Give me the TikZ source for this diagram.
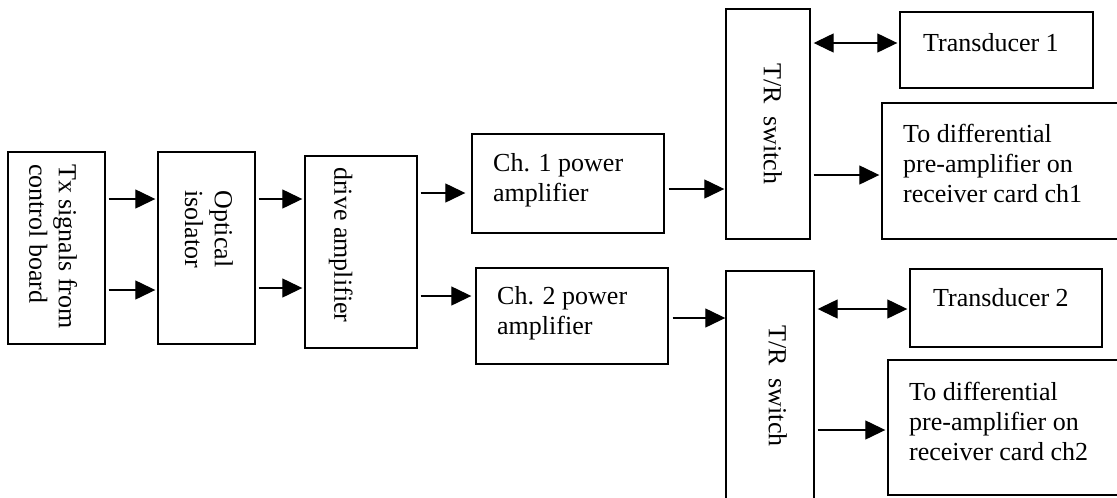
\documentclass[tikz,border=0pt]{standalone}
\usepackage{fontspec}
\setmainfont{Liberation Serif}
\usetikzlibrary{arrows.meta}

\begin{document}
\begin{tikzpicture}[x=1pt,y=-1pt,
  blk/.style={draw,line width=1.4pt,rectangle,inner sep=0pt},
  lbl/.style={inner sep=0pt,align=left,anchor=north west,font=\fontsize{26}{29.7}\selectfont},
  sig/.style={line width=1.3pt,-{Triangle[length=20pt,width=19pt]},shorten <=3pt,shorten >=2pt},
  bidir/.style={sig,{Triangle[length=20pt,width=19pt]}-{Triangle[length=20pt,width=19pt]}}]
  \clip (0,0) rectangle (1117,498);

  % transmit chain
  \node[blk,minimum width=97pt,minimum height=192pt] (tx) at (56.5,248) {};
  \node[blk,minimum width=97pt,minimum height=192pt] (opt) at (206.5,248) {};
  \node[blk,minimum width=112pt,minimum height=192pt] (drv) at (361,252) {};
  \node[blk,minimum width=192pt,minimum height=99pt] (pa1) at (568,183.5) {};
  \node[blk,minimum width=192pt,minimum height=96pt] (pa2) at (572,316) {};
  \node[lbl,rotate=-90] (txtxt) at (77.5,164) {Tx signals from\\control board};
  \node[lbl,rotate=-90,align=center] (opttxt) at (233,190) {Optical\\isolator};
  \node[lbl,rotate=-90] (drvtxt) at (353,167) {drive amplifier};
  \node[lbl] (pa1txt) at (493,153.2) {Ch. 1 power\\amplifier};
  \node[lbl] (pa2txt) at (497,286.2) {Ch. 2 power\\amplifier};

  % channel 1 / channel 2 outputs
  \node[blk,minimum width=84pt,minimum height=230pt] (sw1) at (768,124) {};
  \node[blk,minimum width=88pt,minimum height=249pt] (sw2) at (770,395.5) {};
  \node[blk,minimum width=193pt,minimum height=76pt] (xd1) at (996.5,50) {};
  \node[blk,minimum width=192pt,minimum height=78pt] (xd2) at (1006,308) {};
  \node[blk,minimum width=243pt,minimum height=136pt] (rx1) at (1003.5,171) {};
  \node[blk,minimum width=237pt,minimum height=135pt] (rx2) at (1006.5,427.5) {};
  \node[lbl,rotate=-90] (sw1txt) at (782,63) {T/R\ \ switch};
  \node[lbl,rotate=-90] (sw2txt) at (787,325) {T/R\ \ switch};
  \node[lbl] (xd1txt) at (923,33.2) {Transducer 1};
  \node[lbl] (xd2txt) at (933,288.2) {Transducer 2};
  \node[lbl] (rx1txt) at (903,124.2) {To differential\\pre-amplifier on\\receiver card ch1};
  \node[lbl] (rx2txt) at (909,382.2) {To differential\\pre-amplifier on\\receiver card ch2};

  % signal arrows
  \draw[sig] ([yshift=49pt]tx.east) coordinate (s1) -- (s1 -| opt.west);
  \draw[sig] ([yshift=-42pt]tx.east) coordinate (s2) -- (s2 -| opt.west);
  \draw[sig] ([yshift=49pt]opt.east) coordinate (s3) -- (s3 -| drv.west);
  \draw[sig] ([yshift=-40pt]opt.east) coordinate (s4) -- (s4 -| drv.west);
  \draw[sig,shorten >=6pt] ([yshift=59pt]drv.east) coordinate (s5) -- (s5 -| pa1.west);
  \draw[sig,shorten >=4pt] ([yshift=-44pt]drv.east) coordinate (s6) -- (s6 -| pa2.west);
  \draw[sig,shorten <=4pt,shorten >=1pt] ([yshift=-5.5pt]pa1.east) coordinate (s7) -- (s7 -| sw1.west);
  \draw[sig,shorten <=4pt,shorten >=0pt] ([yshift=-2pt]pa2.east) coordinate (s8) -- (s8 -| sw2.west);
  \draw[bidir] ([yshift=81pt]sw1.east) coordinate (s9) -- (s9 -| xd1.west);
  \draw[sig] ([yshift=-51pt]sw1.east) coordinate (s10) -- (s10 -| rx1.west);
  \draw[bidir] ([yshift=86.5pt]sw2.east) coordinate (s11) -- (s11 -| xd2.west);
  \draw[sig] ([yshift=-34.5pt]sw2.east) coordinate (s12) -- (s12 -| rx2.west);
\end{tikzpicture}
\end{document}
